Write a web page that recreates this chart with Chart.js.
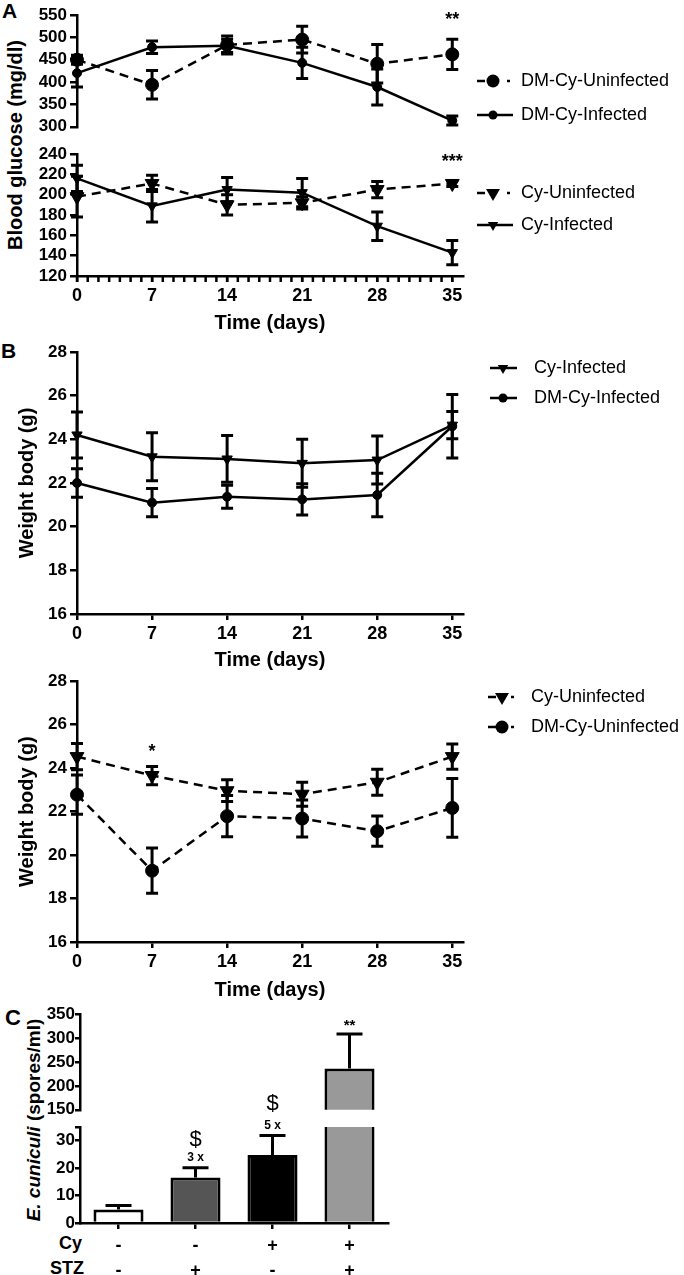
<!DOCTYPE html>
<html>
<head>
<meta charset="utf-8">
<script src="https://cdn.jsdelivr.net/npm/chart.js@4"></script>
<style>
  body { margin: 0; background: #fff; width: 684px; height: 1275px; position: relative; overflow: hidden;
         font-family: Arial, "Liberation Sans", Helvetica, sans-serif; color: #000; }
  canvas { position: absolute; left: 0; }
  .letter { position: absolute; font-weight: bold; line-height: 1; }
  .rot { position: absolute; font-weight: bold; line-height: 1; white-space: nowrap;
         transform: translate(-50%, -50%) rotate(-90deg); }
  .row { position: absolute; font-weight: bold; font-size: 18px; line-height: 18px; text-align: right; }
</style>
</head>
<body>
<div class="letter" style="left:2px;top:0px;font-size:21px">A</div>
<div class="letter" style="left:1px;top:340px;font-size:21px">B</div>
<div class="letter" style="left:5px;top:1007px;font-size:22px">C</div>

<div class="rot" style="left:15px;top:145px;font-size:20px">Blood glucose (mg/dl)</div>
<div class="rot" style="left:33px;top:1120px;font-size:19px"><i>E. cuniculi</i> (spores/ml)</div>
<div class="row" style="right:602px;top:1234px">Cy</div>
<div class="row" style="right:600px;top:1259px">STZ</div>

<canvas id="a1" width="684" height="140" style="top:0px"></canvas>
<canvas id="a2" width="684" height="200" style="top:140px"></canvas>
<canvas id="b1" width="684" height="337" style="top:338px"></canvas>
<canvas id="b2" width="684" height="342" style="top:668px"></canvas>
<canvas id="c1" width="684" height="120" style="top:1000px"></canvas>
<canvas id="c2" width="684" height="185" style="top:1090px"></canvas>

<script>
const FONT = 'Arial, "Liberation Sans", Helvetica, sans-serif';
Chart.defaults.font.family = FONT;
Chart.defaults.color = '#000';
Chart.defaults.animation = false;

// ---- data ----
const days = [0, 7, 14, 21, 28, 35];

// A: blood glucose (mg/dl)
const glucDmUninf = [450, 394, 483, 495, 441, 462];
const glucDmUninfErr = [10, 32, 20, 30, 43, 34];
const glucDmInf = [420, 478, 481, 443, 389, 314];
const glucDmInfErr = [31, 14, 15, 35, 40, 10];
const glucCyUninf = [198, 211, 190, 192, 205, 211];
const glucCyUninfErr = [20, 8, 10, 6, 8, 3];
const glucCyInf = [216, 189, 205, 202, 169, 143];
const glucCyInfErr = [13, 16, 12, 14, 14, 12];

// B: body weight (g)
const wCyInf = [24.2, 23.2, 23.1, 22.9, 23.05, 24.65];
const wCyInfErr = [1.05, 1.1, 1.07, 1.1, 1.1, 0.62];
const wDmInf = [22.0, 21.1, 21.37, 21.25, 21.45, 24.6];
const wDmInfErr = [0.65, 0.65, 0.53, 0.72, 1.0, 1.45];
const wCyUninf = [24.53, 23.66, 22.96, 22.8, 23.35, 24.53];
const wCyUninfErr = [0.6, 0.42, 0.5, 0.55, 0.6, 0.58];
const wDmUninf = [22.78, 19.28, 21.79, 21.68, 21.1, 22.17];
const wDmUninfErr = [0.9, 1.04, 0.95, 0.85, 0.7, 1.35];

// C: spores
const cyRow = ['-', '-', '+', '+'];
const stzRow = ['-', '+', '-', '+'];
const spores = [4.9, 16.6, 24.8, 236];
const sporesErr = [1.5, 3.5, 7.1, 72];
const barColors = ['#ffffff', '#555555', '#000000', '#999999'];

// tick labels
const glucUpperTicks = [300, 350, 400, 450, 500, 550];
const glucLowerTicks = [120, 140, 160, 180, 200, 220, 240];
const weightTicks = [16, 18, 20, 22, 24, 26, 28];
const sporeUpperTicks = [150, 200, 250, 300, 350];
const sporeLowerTicks = [0, 10, 20, 30, 35];
const sporeLowerLabels = [0, 10, 20, 30];

// ---- helpers ----
const DASH = [9, 6];
const bigCircle = {pointStyle: 'circle', pointRadius: 6.5, borderDash: DASH};
const smallCircle = {pointStyle: 'circle', pointRadius: 4.5};
const bigTri = {pointStyle: 'triangle', pointRadius: 8, pointRotation: 180, borderDash: DASH};
const smallTri = {pointStyle: 'triangle', pointRadius: 6, pointRotation: 180};

function series(label, vals, errs, style) {
  return Object.assign({
    label: label,
    data: days.map((d, i) => ({x: d, y: vals[i]})),
    errors: errs,
    borderColor: '#000', backgroundColor: '#000', borderWidth: 2.5,
    pointBackgroundColor: '#000', pointBorderColor: '#000', pointBorderWidth: 1,
    tension: 0, clip: false
  }, style);
}

function valueOf(raw) { return typeof raw === 'object' ? raw.y : raw; }

function errorBars(cfg) {
  return {
    id: 'errorBars',
    afterDatasetsDraw(chart) {
      const ctx = chart.ctx, a = chart.chartArea, ys = chart.scales.y;
      ctx.save();
      if (cfg.clip) { ctx.beginPath(); ctx.rect(a.left, a.top, a.right - a.left, a.bottom - a.top); ctx.clip(); }
      ctx.strokeStyle = '#000'; ctx.lineWidth = cfg.width || 3;
      chart.data.datasets.forEach((ds, di) => {
        if (!ds.errors) return;
        chart.getDatasetMeta(di).data.forEach((el, i) => {
          const v = valueOf(ds.data[i]), e = ds.errors[i];
          const top = ys.getPixelForValue(v + e);
          const bot = cfg.upOnly ? el.y : ys.getPixelForValue(v - e);
          const x = el.x, h = cfg.cap;
          ctx.beginPath();
          ctx.moveTo(x, top); ctx.lineTo(x, bot);
          ctx.moveTo(x - h, top); ctx.lineTo(x + h, top);
          if (!cfg.upOnly) { ctx.moveTo(x - h, bot); ctx.lineTo(x + h, bot); }
          ctx.stroke();
        });
      });
      ctx.restore();
    }
  };
}

// one small tick per day under the x axis (panel A)
function minorTicks(len) {
  return {
    id: 'minorTicks',
    afterDraw(chart) {
      const xs = chart.scales.x, ctx = chart.ctx, y = chart.chartArea.bottom;
      ctx.save();
      ctx.strokeStyle = '#000'; ctx.lineWidth = 2.5;
      ctx.beginPath();
      for (let d = xs.min; d <= 35; d++) {
        const x = xs.getPixelForValue(d);
        ctx.moveTo(x, y); ctx.lineTo(x, y + len);
      }
      ctx.stroke();
      ctx.restore();
    }
  };
}

function drawMarker(ctx, ds, x, y) {
  const r = ds.pointRadius;
  ctx.beginPath();
  if (ds.pointStyle === 'triangle') {
    ctx.moveTo(x - r * 0.87, y - r * 0.5);
    ctx.lineTo(x + r * 0.87, y - r * 0.5);
    ctx.lineTo(x, y + r);
    ctx.closePath();
  } else {
    ctx.arc(x, y, r, 0, Math.PI * 2);
  }
  ctx.fill();
}

function sideLegend(cfg) {
  return {
    id: 'sideLegend',
    afterDraw(chart) {
      const ctx = chart.ctx, top = chart.canvas.offsetTop;
      cfg.rows.forEach(r => {
        const ds = chart.data.datasets[r.ds];
        const y = r.y - top;
        ctx.save();
        ctx.strokeStyle = '#000'; ctx.fillStyle = '#000'; ctx.lineWidth = 2.5;
        ctx.beginPath();
        if (ds.borderDash) {
          ctx.moveTo(cfg.x0, y); ctx.lineTo(cfg.x0 + 8, y);
          ctx.moveTo(cfg.x1 - 6, y); ctx.lineTo(cfg.x1 - 3, y);
        } else {
          ctx.moveTo(cfg.x0, y); ctx.lineTo(cfg.x1, y);
        }
        ctx.stroke();
        drawMarker(ctx, ds, cfg.mx, y);
        ctx.font = '18px ' + FONT;
        ctx.textBaseline = 'middle';
        ctx.fillText(ds.label, cfg.tx, y);
        ctx.restore();
      });
    }
  };
}

function marks(list) {
  return {
    id: 'marks',
    afterDraw(chart) {
      const ctx = chart.ctx, ys = chart.scales.y;
      list.forEach(m => {
        const ds = chart.data.datasets[m.ds];
        const el = chart.getDatasetMeta(m.ds).data[m.index];
        const v = valueOf(ds.data[m.index]) + ds.errors[m.index];
        ctx.save();
        ctx.font = m.font; ctx.fillStyle = '#000';
        ctx.textAlign = 'center'; ctx.textBaseline = 'middle';
        ctx.fillText(m.text, el.x, ys.getPixelForValue(v) - m.dy);
        ctx.restore();
      });
    }
  };
}

const axisGrid = (len) => ({display: true, drawOnChartArea: false, drawTicks: true, tickLength: len, color: '#000', lineWidth: 2.5});
const axisBorder = {display: true, color: '#000', width: 2.5};

function lineChart(id, sets, cfg) {
  const extra = cfg.minor ? [minorTicks(6)] : [];
  return new Chart(document.getElementById(id), {
    type: 'line',
    data: {datasets: sets},
    options: {
      responsive: false,
      animation: false,
      layout: {autoPadding: false, padding: {left: 0, right: 684 - 463, top: cfg.padTop, bottom: cfg.padBottom || 0}},
      plugins: {legend: {display: false}, tooltip: {enabled: false}},
      scales: {
        x: {
          type: 'linear', min: 0, max: 36, display: cfg.showX,
          afterBuildTicks: s => { s.ticks = days.map(v => ({value: v})); },
          afterFit: s => { s.height = cfg.xHeight || 0; },
          ticks: {autoSkip: false, maxRotation: 0, padding: 3, font: {size: 18, weight: 'bold'}},
          grid: axisGrid(6), border: axisBorder,
          title: {display: true, text: 'Time (days)', font: {size: 20, weight: 'bold'}, padding: {top: 0, bottom: cfg.xTitlePad || 0}}
        },
        y: {
          min: cfg.yTicks[0], max: cfg.yTicks[cfg.yTicks.length - 1],
          afterBuildTicks: s => { s.ticks = cfg.yTicks.map(v => ({value: v})); },
          afterFit: s => { s.width = 77; },
          ticks: {autoSkip: false, padding: 3, font: {size: 17, weight: 'bold'}},
          grid: axisGrid(7), border: axisBorder,
          title: {display: !!cfg.yTitle, text: cfg.yTitle || '', font: {size: 20, weight: 'bold'}, padding: {top: 15, bottom: 0}}
        }
      }
    },
    plugins: [errorBars({cap: 6, width: 3}), sideLegend(cfg.legend), marks(cfg.marks || [])].concat(extra)
  });
}

// ---- Panel A (broken y axis: two stacked charts) ----
lineChart('a1', [
  series('DM-Cy-Uninfected', glucDmUninf, glucDmUninfErr, bigCircle),
  series('DM-Cy-Infected', glucDmInf, glucDmInfErr, smallCircle)
], {
  padTop: 15, padBottom: 6, showX: false, yTicks: glucUpperTicks,
  legend: {x0: 477, x1: 513, mx: 493, tx: 521, rows: [{ds: 0, y: 81}, {ds: 1, y: 115}]},
  marks: [{ds: 0, index: 5, text: '**', dy: 19, font: 'bold 18px ' + FONT}]
});

lineChart('a2', [
  series('Cy-Uninfected', glucCyUninf, glucCyUninfErr, bigTri),
  series('Cy-Infected', glucCyInf, glucCyInfErr, smallTri)
], {
  padTop: 14, showX: true, xHeight: 64, xTitlePad: 5, minor: true, yTicks: glucLowerTicks,
  legend: {x0: 477, x1: 513, mx: 493, tx: 521, rows: [{ds: 0, y: 193}, {ds: 1, y: 225}]},
  marks: [{ds: 0, index: 5, text: '***', dy: 18, font: 'bold 18px ' + FONT}]
});

// ---- Panel B ----
lineChart('b1', [
  series('Cy-Infected', wCyInf, wCyInfErr, smallTri),
  series('DM-Cy-Infected', wDmInf, wDmInfErr, smallCircle)
], {
  padTop: 14, showX: true, xHeight: 61, xTitlePad: 3, yTicks: weightTicks, yTitle: 'Weight body (g)',
  legend: {x0: 490, x1: 517, mx: 503, tx: 534, rows: [{ds: 0, y: 368}, {ds: 1, y: 398}]}
});

lineChart('b2', [
  series('Cy-Uninfected', wCyUninf, wCyUninfErr, bigTri),
  series('DM-Cy-Uninfected', wDmUninf, wDmUninfErr, bigCircle)
], {
  padTop: 11, showX: true, xHeight: 68, xTitlePad: 8, yTicks: weightTicks, yTitle: 'Weight body (g)',
  legend: {x0: 488, x1: 517, mx: 502, tx: 531, rows: [{ds: 0, y: 697}, {ds: 1, y: 727}]},
  marks: [{ds: 0, index: 1, text: '*', dy: 14, font: 'bold 18px ' + FONT}]
});

// ---- Panel C (broken y axis: two stacked charts) ----
function barChart(id, cfg) {
  return new Chart(document.getElementById(id), {
    type: 'bar',
    data: {
      labels: cyRow.map((c, i) => [c, stzRow[i]]),
      datasets: [{
        data: spores, errors: sporesErr,
        backgroundColor: barColors, borderColor: '#000', borderWidth: 3,
        barPercentage: 0.65, categoryPercentage: 1, clip: 0
      }]
    },
    options: {
      responsive: false,
      animation: false,
      layout: {autoPadding: false, padding: {left: 0, right: 684 - 388, top: cfg.padTop, bottom: cfg.padBottom || 0}},
      plugins: {legend: {display: false}, tooltip: {enabled: false}},
      scales: {
        x: {
          display: cfg.showX,
          afterFit: s => { s.height = cfg.xHeight || 0; },
          ticks: {autoSkip: false, maxRotation: 0, padding: 4, font: {size: 18, weight: 'bold', lineHeight: 1.4}},
          grid: Object.assign(axisGrid(6), {offset: false}), border: axisBorder
        },
        y: {
          min: cfg.yTicks[0], max: cfg.yTicks[cfg.yTicks.length - 1],
          afterBuildTicks: s => { s.ticks = cfg.yTicks.map(v => ({value: v})); },
          afterFit: s => { s.width = 80; },
          ticks: {autoSkip: false, padding: 0, font: {size: 17, weight: 'bold'},
                  callback: v => cfg.labels.includes(v) ? String(v) : ''},
          grid: axisGrid(5), border: axisBorder
        }
      }
    },
    plugins: [errorBars({cap: 13, width: 3, upOnly: true, clip: true}), marks(cfg.marks || [])]
  });
}

barChart('c1', {
  padTop: 14, padBottom: 9, showX: false, yTicks: sporeUpperTicks, labels: sporeUpperTicks,
  marks: [{ds: 0, index: 3, text: '**', dy: 8, font: 'bold 15px ' + FONT}]
});

barChart('c2', {
  padTop: 37, showX: true, xHeight: 52, yTicks: sporeLowerTicks, labels: sporeLowerLabels,
  marks: [
    {ds: 0, index: 1, text: '3 x', dy: 10, font: 'bold 12px ' + FONT},
    {ds: 0, index: 1, text: '$', dy: 28, font: '22px ' + FONT},
    {ds: 0, index: 2, text: '5 x', dy: 10, font: 'bold 12px ' + FONT},
    {ds: 0, index: 2, text: '$', dy: 32, font: '22px ' + FONT}
  ]
});
</script>
</body>
</html>
